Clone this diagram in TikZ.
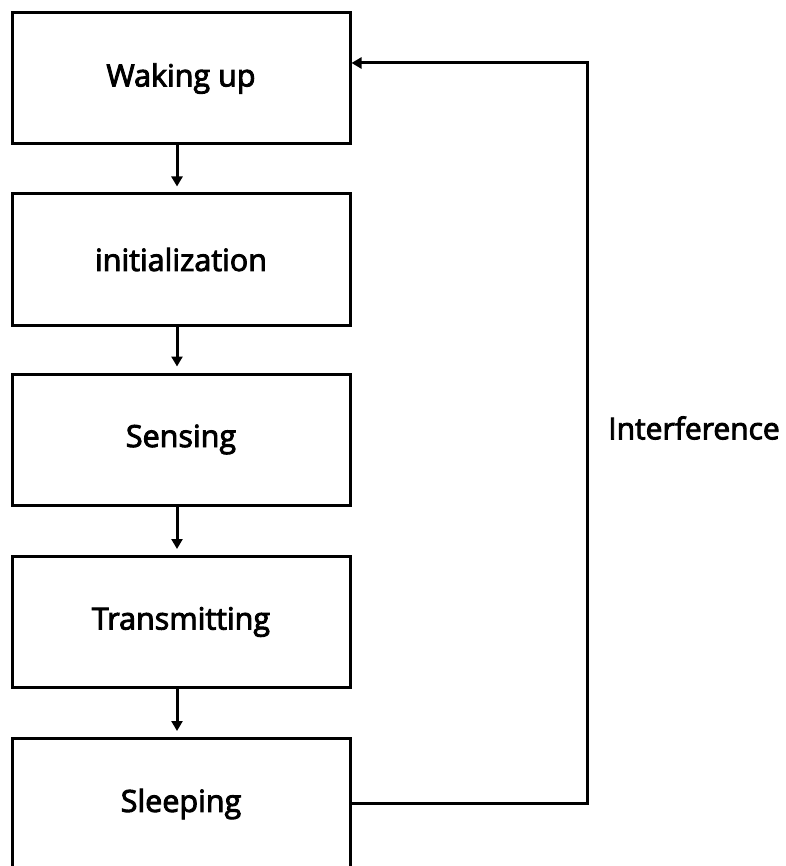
\documentclass[tikz,border=0pt]{standalone}
\usepackage{fontspec}
\setmainfont{Open Sans}
\newfontfamily\lblfont{Open Sans}[FakeBold=3]
\usetikzlibrary{arrows.meta}
\tikzset{
  stagebox/.style={draw=black, line width=3pt, fill=white, minimum width=338pt, minimum height=131pt, inner sep=0pt, font=\lblfont\fontsize{30.5}{36}\selectfont},
  flow/.style={line width=3pt, -{Triangle[length=10pt,width=11pt]}},
  lbl/.style={font=\lblfont\fontsize{30}{36}\selectfont, inner sep=0pt}
}
\begin{document}
\begin{tikzpicture}[x=1pt,y=-1pt]
\useasboundingbox (0,0) rectangle (785,866);
\clip (0,0) rectangle (785,866);
\fill[white] (0,0) rectangle (785,866);
\node[stagebox] (wake) at (181,78.5) {Waking up};
\node[stagebox] (init) at (181,259.5) {initialization};
\node[stagebox] (sense) at (181,439.5) {Sensing};
\node[stagebox] (trans) at (181,622) {Transmitting};
\node[stagebox] (sleep) at (181,804) {Sleeping};
\node[lbl] (intf) at (694,428) {Interference};
\coordinate (c1) at (587,803);
\coordinate (c2) at (587,63);
\draw[flow, shorten >=6pt] (wake.south -| 177,0) -- (init.north -| 177,0);
\draw[flow, shorten >=6pt] (init.south -| 177,0) -- (sense.north -| 177,0);
\draw[flow, shorten >=6pt] (sense.south -| 177,0) -- (trans.north -| 177,0);
\draw[flow, shorten >=6pt] (trans.south -| 177,0) -- (sleep.north -| 177,0);
\draw[flow] (sleep.east |- c1) -- (c1) -- (c2) -- (wake.east |- c2);
\end{tikzpicture}
\end{document}
